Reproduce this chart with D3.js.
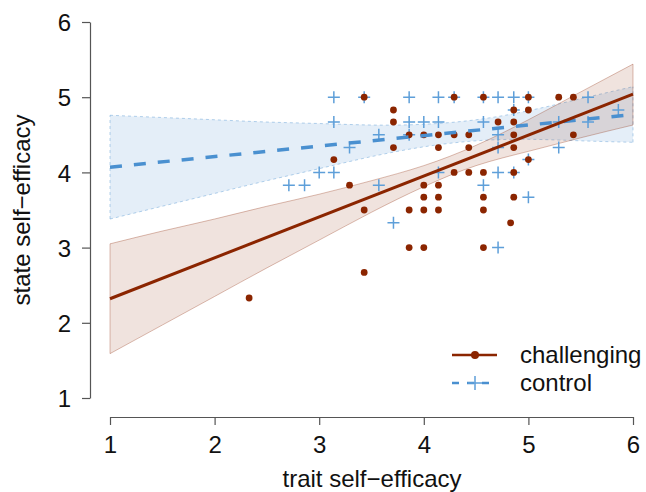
<!DOCTYPE html>
<html>
<head>
<meta charset="utf-8">
<script src="https://cdn.jsdelivr.net/npm/d3@7"></script>
<style>
  body { margin: 0; background: #fff; }
  svg text { font-family: "Liberation Sans", Arial, sans-serif; fill: #111; }
</style>
</head>
<body>
<svg id="chart" width="646" height="492"></svg>
<script>
// challenging group: [trait, state]
const challenging = [
  [2.33, 2.33], [3.14, 4.17], [3.29, 3.83], [3.43, 5.00], [3.43, 3.50], [3.43, 2.67],
  [3.71, 4.83], [3.71, 4.67], [3.71, 4.33], [3.86, 4.50], [3.86, 3.50], [3.86, 3.00],
  [4.00, 4.50], [4.00, 3.83], [4.00, 3.67], [4.00, 3.50], [4.00, 3.00],
  [4.14, 4.50], [4.14, 4.33], [4.14, 3.83], [4.14, 3.67], [4.14, 3.50],
  [4.29, 5.00], [4.29, 4.50], [4.29, 4.00], [4.43, 4.50], [4.43, 4.33], [4.43, 4.00],
  [4.57, 5.00], [4.57, 4.00], [4.57, 3.67], [4.57, 3.50], [4.57, 3.00], [4.71, 4.67],
  [4.86, 4.83], [4.86, 4.67], [4.86, 4.50], [4.86, 4.33], [4.86, 4.00], [4.86, 3.67],
  [4.83, 3.33], [5.00, 5.00], [5.00, 4.83], [5.00, 4.17], [5.29, 5.00], [5.43, 5.00],
  [5.43, 4.50]
];

// control group: [trait, state]
const control = [
  [2.71, 3.83], [2.86, 3.83], [3.00, 4.00], [3.14, 4.00], [3.14, 4.67], [3.14, 5.00],
  [3.29, 4.33], [3.43, 5.00], [3.57, 4.50], [3.57, 3.83], [3.71, 3.33], [3.86, 5.00],
  [3.86, 4.67], [3.86, 4.50], [4.00, 4.67], [4.14, 5.00], [4.14, 4.67], [4.14, 4.00],
  [4.29, 5.00], [4.57, 5.00], [4.57, 4.67], [4.57, 3.83], [4.71, 5.00], [4.71, 4.50],
  [4.71, 4.33], [4.71, 4.00], [4.71, 3.00], [4.86, 5.00], [4.86, 4.83], [4.86, 4.00],
  [5.00, 5.00], [5.00, 4.17], [5.00, 3.67], [5.29, 4.67], [5.29, 4.33], [5.57, 5.00],
  [5.57, 4.67], [5.86, 4.83]
];

// fitted lines (at trait = 1 and 6)
const fitX = [1, 6];
const challengingFit = [2.32, 5.04];
const controlFit = [4.07, 4.77];

// confidence bands read at these trait values
const bandX = [1, 1.5, 2, 2.5, 3, 3.5, 4, 4.5, 5, 5.5, 6];
const challengingLower = [1.59, 1.97, 2.35, 2.73, 3.10, 3.47, 3.81, 4.09, 4.28, 4.46, 4.63];
const challengingUpper = [3.05, 3.22, 3.38, 3.55, 3.71, 3.89, 4.09, 4.36, 4.70, 5.07, 5.44];
const controlLower = [3.38, 3.55, 3.72, 3.89, 4.05, 4.21, 4.34, 4.42, 4.44, 4.42, 4.40];
const controlUpper = [4.76, 4.73, 4.70, 4.67, 4.65, 4.63, 4.64, 4.70, 4.82, 4.98, 5.14];

const ticks = [1, 2, 3, 4, 5, 6];

const red = "#8b2500";
const blue = "#4a90d0";
const crossColor = "#5e9fd9";

const svg = d3.select("#chart");

const x = d3.scaleLinear().domain([1, 6]).range([110, 633]);
const y = d3.scaleLinear().domain([1, 6]).range([398, 22]);

// bands
function band(lower, upper) {
  return d3.area()
    .x((d, i) => x(bandX[i]))
    .y0((d, i) => y(lower[i]))
    .y1((d, i) => y(upper[i]))
    .curve(d3.curveNatural)(bandX);
}
function edge(vals) {
  return d3.line()
    .x((d, i) => x(bandX[i]))
    .y((d, i) => y(vals[i]))
    .curve(d3.curveNatural)(bandX);
}

svg.append("path")
  .attr("d", band(controlLower, controlUpper))
  .attr("fill", blue)
  .attr("fill-opacity", 0.15);
[controlLower, controlUpper].forEach((v) => {
  svg.append("path").attr("d", edge(v))
    .attr("fill", "none").attr("stroke", blue)
    .attr("stroke-opacity", 0.4).attr("stroke-width", 1)
    .attr("stroke-dasharray", "3,3");
});
[0, bandX.length - 1].forEach((i) => {
  svg.append("line")
    .attr("x1", x(bandX[i])).attr("x2", x(bandX[i]))
    .attr("y1", y(controlLower[i])).attr("y2", y(controlUpper[i]))
    .attr("stroke", blue).attr("stroke-opacity", 0.4).attr("stroke-dasharray", "3,3");
});

svg.append("path")
  .attr("d", band(challengingLower, challengingUpper))
  .attr("fill", red)
  .attr("fill-opacity", 0.13)
  .attr("stroke", red)
  .attr("stroke-opacity", 0.3)
  .attr("stroke-width", 1);

// points
svg.append("g").selectAll("path")
  .data(control)
  .join("path")
  .attr("d", (d) => {
    const cx = x(d[0]), cy = y(d[1]);
    return `M${cx - 6},${cy}H${cx + 6}M${cx},${cy - 6}V${cy + 6}`;
  })
  .attr("stroke", crossColor)
  .attr("stroke-width", 1.5);

svg.append("g").selectAll("circle")
  .data(challenging)
  .join("circle")
  .attr("cx", (d) => x(d[0]))
  .attr("cy", (d) => y(d[1]))
  .attr("r", 3.4)
  .attr("fill", red);

// fitted lines
svg.append("line")
  .attr("x1", x(fitX[0])).attr("y1", y(controlFit[0]))
  .attr("x2", x(fitX[1])).attr("y2", y(controlFit[1]))
  .attr("stroke", blue).attr("stroke-width", 3.5)
  .attr("stroke-dasharray", "12,12");

svg.append("line")
  .attr("x1", x(fitX[0])).attr("y1", y(challengingFit[0]))
  .attr("x2", x(fitX[1])).attr("y2", y(challengingFit[1]))
  .attr("stroke", red).attr("stroke-width", 3);

// axes
const xAxis = svg.append("g")
  .attr("transform", "translate(0,417)")
  .call(d3.axisBottom(x).tickValues(ticks).tickSize(8).tickSizeOuter(0).tickFormat(d3.format("d")));
const yAxis = svg.append("g")
  .attr("transform", "translate(90,0)")
  .call(d3.axisLeft(y).tickValues(ticks).tickSize(8).tickSizeOuter(0).tickFormat(d3.format("d")));

[xAxis, yAxis].forEach((g) => {
  g.select(".domain").attr("stroke", "#555").attr("stroke-width", 1.2);
  g.selectAll(".tick line").attr("stroke", "#555").attr("stroke-width", 1.2);
  g.selectAll(".tick text")
    .attr("font-size", 24)
    .attr("font-family", "Liberation Sans, Arial, sans-serif")
    .attr("fill", "#111");
});
xAxis.selectAll(".tick text").attr("y", 19).attr("dy", "0.71em");
yAxis.selectAll(".tick text").attr("x", -19).attr("dy", "0.36em");

// axis titles
svg.append("text")
  .attr("x", 372).attr("y", 487)
  .attr("text-anchor", "middle")
  .attr("font-size", 24)
  .text("trait self\u2212efficacy");

svg.append("text")
  .attr("transform", "translate(30,210) rotate(-90)")
  .attr("text-anchor", "middle")
  .attr("font-size", 24)
  .text("state self\u2212efficacy");

// legend
const legend = svg.append("g");
legend.append("line")
  .attr("x1", 452).attr("x2", 497).attr("y1", 355).attr("y2", 355)
  .attr("stroke", red).attr("stroke-width", 2.5);
legend.append("circle")
  .attr("cx", 475).attr("cy", 355).attr("r", 4).attr("fill", red);
legend.append("text")
  .attr("x", 520).attr("y", 363).attr("font-size", 24).text("challenging");

legend.append("line")
  .attr("x1", 452).attr("x2", 497).attr("y1", 383).attr("y2", 383)
  .attr("stroke", blue).attr("stroke-width", 2.5)
  .attr("stroke-dasharray", "7,8");
legend.append("path")
  .attr("d", "M468,383H482M475,376V390")
  .attr("stroke", crossColor).attr("stroke-width", 1.5);
legend.append("text")
  .attr("x", 520).attr("y", 391).attr("font-size", 24).text("control");
</script>
</body>
</html>
